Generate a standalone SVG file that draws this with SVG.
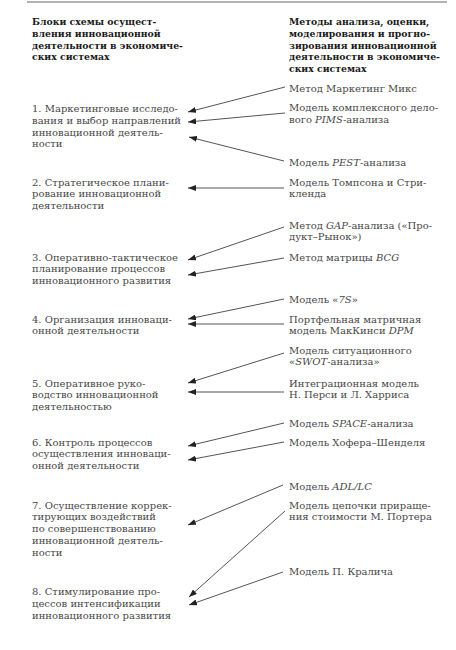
<svg xmlns="http://www.w3.org/2000/svg" width="456" height="650" viewBox="0 0 456 650">
<defs>
<marker id="ah" markerWidth="8" markerHeight="6" refX="8" refY="3" orient="auto" markerUnits="userSpaceOnUse">
<path d="M0,0 L8,3 L0,6 z" fill="#222"/>
</marker>
<style>
.h{font-family:"DejaVu Serif","Liberation Serif",serif;font-size:9.3px;font-weight:bold;fill:#1a1a1a}
.t{font-family:"DejaVu Serif","Liberation Serif",serif;font-size:10px;fill:#474747}
.i{font-style:italic}
.c{stroke:#555;stroke-width:1;fill:none;marker-end:url(#ah)}
</style>
</defs>
<rect width="456" height="650" fill="#fff"/>
<line x1="27" y1="2" x2="447" y2="2" stroke="#999" stroke-width="1.5"/>
<g id="header-left"><text class="h" x="32" y="25"><tspan x="32">Блоки схемы осущест-</tspan><tspan x="32" dy="11.8">вления инновационной</tspan><tspan x="32" dy="11.8">деятельности в экономиче-</tspan><tspan x="32" dy="11.8">ских системах</tspan></text></g>
<g id="header-right"><text class="h" x="289" y="25"><tspan x="289">Методы анализа, оценки,</tspan><tspan x="289" dy="11.8">моделирования и прогно-</tspan><tspan x="289" dy="11.8">зирования инновационной</tspan><tspan x="289" dy="11.8">деятельности в экономиче-</tspan><tspan x="289" dy="11.8">ских системах</tspan></text></g>

<g id="b1"><text class="t" y="112"><tspan x="32">1. Маркетинговые исследо-</tspan><tspan x="32" dy="11.8">вания и выбор направлений</tspan><tspan x="32" dy="11.8">инновационной деятель-</tspan><tspan x="32" dy="11.8">ности</tspan></text></g>
<g id="b2"><text class="t" y="185.5"><tspan x="32">2. Стратегическое плани-</tspan><tspan x="32" dy="11.8">рование инновационной</tspan><tspan x="32" dy="11.8">деятельности</tspan></text></g>
<g id="b3"><text class="t" y="260.5"><tspan x="32">3. Оперативно-тактическое</tspan><tspan x="32" dy="11.8">планирование процессов</tspan><tspan x="32" dy="11.8">инновационного развития</tspan></text></g>
<g id="b4"><text class="t" y="322.5"><tspan x="32">4. Организация инноваци-</tspan><tspan x="32" dy="11.8">онной деятельности</tspan></text></g>
<g id="b5"><text class="t" y="386.5"><tspan x="32">5. Оперативное руко-</tspan><tspan x="32" dy="11.8">водство инновационной</tspan><tspan x="32" dy="11.8">деятельностью</tspan></text></g>
<g id="b6"><text class="t" y="445.5"><tspan x="32">6. Контроль процессов</tspan><tspan x="32" dy="11.8">осуществления инноваци-</tspan><tspan x="32" dy="11.8">онной деятельности</tspan></text></g>
<g id="b7"><text class="t" y="508.5"><tspan x="32">7. Осуществление коррек-</tspan><tspan x="32" dy="11.8">тирующих воздействий</tspan><tspan x="32" dy="11.8">по совершенствованию</tspan><tspan x="32" dy="11.8">инновационной деятель-</tspan><tspan x="32" dy="11.8">ности</tspan></text></g>
<g id="b8"><text class="t" y="595"><tspan x="32">8. Стимулирование про-</tspan><tspan x="32" dy="11.8">цессов интенсификации</tspan><tspan x="32" dy="11.8">инновационного развития</tspan></text></g>

<g id="m1"><text class="t" x="289" y="91.5">Метод Маркетинг Микс</text></g>
<g id="m2"><text class="t" y="111"><tspan x="289">Модель комплексного дело-</tspan><tspan x="289" dy="11.8">вого <tspan class="i">PIMS</tspan>-анализа</tspan></text></g>
<g id="m3"><text class="t" x="289" y="166">Модель <tspan class="i">PEST</tspan>-анализа</text></g>
<g id="m4"><text class="t" y="185.5"><tspan x="289">Модель Томпсона и Стри-</tspan><tspan x="289" dy="11.8">кленда</tspan></text></g>
<g id="m5"><text class="t" y="228.5"><tspan x="289">Метод <tspan class="i">GAP</tspan>-анализа («Про-</tspan><tspan x="289" dy="11.8">дукт–Рынок»)</tspan></text></g>
<g id="m6"><text class="t" x="289" y="260.5">Метод матрицы <tspan class="i">BCG</tspan></text></g>
<g id="m7"><text class="t" x="289" y="302.5">Модель «<tspan class="i">7S</tspan>»</text></g>
<g id="m8"><text class="t" y="322.5"><tspan x="289">Портфельная матричная</tspan><tspan x="289" dy="11.8">модель МакКинси <tspan class="i">DPM</tspan></tspan></text></g>
<g id="m9"><text class="t" y="353.5"><tspan x="289">Модель ситуационного</tspan><tspan x="289" dy="11.8">«<tspan class="i">SWOT</tspan>-анализа»</tspan></text></g>
<g id="m10"><text class="t" y="386.5"><tspan x="289">Интеграционная модель</tspan><tspan x="289" dy="11.8">Н. Перси и Л. Харриса</tspan></text></g>
<g id="m11"><text class="t" x="289" y="426.5">Модель <tspan class="i">SPACE</tspan>-анализа</text></g>
<g id="m12"><text class="t" x="289" y="445.5">Модель Хофера–Шенделя</text></g>
<g id="m13"><text class="t" x="289" y="489.5">Модель <tspan class="i">ADL/LC</tspan></text></g>
<g id="m14"><text class="t" y="508.5"><tspan x="289">Модель цепочки прираще-</tspan><tspan x="289" dy="11.8">ния стоимости М. Портера</tspan></text></g>
<g id="m15"><text class="t" x="289" y="575">Модель П. Кралича</text></g>

<g id="connectors">
<line class="c" x1="285" y1="87" x2="188" y2="112"/>
<line class="c" x1="285" y1="113" x2="188" y2="122"/>
<line class="c" x1="284" y1="161" x2="189" y2="137"/>
<line class="c" x1="284" y1="188" x2="188" y2="188"/>
<line class="c" x1="284" y1="227" x2="188" y2="260"/>
<line class="c" x1="284" y1="258" x2="188" y2="275"/>
<line class="c" x1="284" y1="299" x2="188" y2="319"/>
<line class="c" x1="284" y1="324" x2="188" y2="324"/>
<line class="c" x1="284" y1="353" x2="188" y2="383"/>
<line class="c" x1="284" y1="392" x2="188" y2="392"/>
<line class="c" x1="284" y1="423" x2="188" y2="446"/>
<line class="c" x1="284" y1="442" x2="188" y2="460"/>
<line class="c" x1="283" y1="485" x2="188" y2="525"/>
<line class="c" x1="285" y1="511" x2="189" y2="597"/>
<line class="c" x1="283" y1="572" x2="189" y2="605"/>
</g>
</svg>
